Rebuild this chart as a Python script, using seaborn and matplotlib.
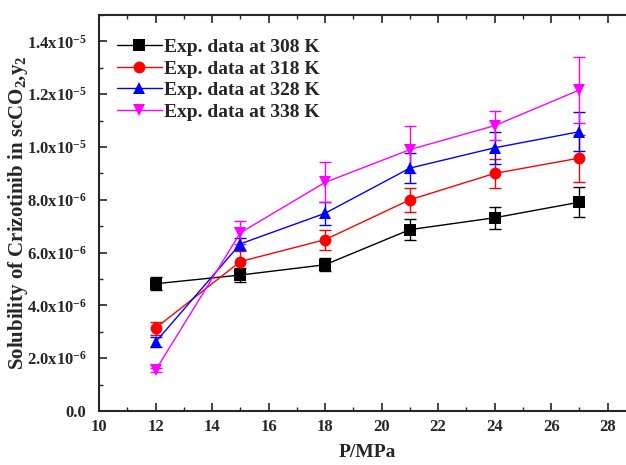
import matplotlib
matplotlib.use("Agg")
import matplotlib.pyplot as plt
import numpy as np
import pandas as pd
import seaborn as sns
from matplotlib.ticker import FuncFormatter, MultipleLocator

pressure = [12, 15, 18, 21, 24, 27]
temps = ["308", "318", "328", "338"]

# solubility in units of 1e-6
sol_308 = [4.82, 5.15, 5.54, 6.87, 7.32, 7.91]
sol_318 = [3.14, 5.66, 6.49, 8.00, 9.00, 9.58]
sol_328 = [2.61, 6.33, 7.49, 9.20, 9.97, 10.58]
sol_338 = [1.54, 6.75, 8.66, 9.90, 10.81, 12.16]

err_308 = [0.25, 0.27, 0.25, 0.41, 0.41, 0.56]
err_318 = [0.25, 0.40, 0.38, 0.45, 0.56, 0.89]
err_328 = [0.20, 0.22, 0.44, 0.57, 0.61, 0.75]
err_338 = [0.08, 0.44, 0.76, 0.90, 0.54, 1.26]

colors = ["#000000", "#ff0000", "#0000ff", "#ff00ff"]
markers = ["s", "o", "^", "v"]

sns.set_style("ticks")
plt.rcParams["font.family"] = ["Liberation Serif", "DejaVu Serif"]
plt.rcParams["font.weight"] = "bold"
plt.rcParams["mathtext.fontset"] = "custom"
plt.rcParams["mathtext.rm"] = "Liberation Serif:bold"
plt.rcParams["mathtext.it"] = "Liberation Serif:bold"
plt.rcParams["mathtext.bf"] = "Liberation Serif:bold"

sols = [sol_308, sol_318, sol_328, sol_338]
errs = [err_308, err_318, err_328, err_338]
rows = []
for t, s in zip(temps, sols):
    for p, v in zip(pressure, s):
        rows.append({"P": p, "y": v * 1e-6, "T": f"Exp. data at {t} K"})
df = pd.DataFrame(rows)
labels = [f"Exp. data at {t} K" for t in temps]

fig = plt.figure(figsize=(6.26, 4.65), dpi=100)
ax = fig.add_axes([99 / 626, 54 / 465, 19 * 28.26 / 626, 396 / 465])

for t, s, e, c in zip(temps, sols, errs, colors):
    ax.errorbar(pressure, np.array(s) * 1e-6, yerr=np.array(e) * 1e-6, fmt="none",
                ecolor=c, elinewidth=1, capsize=4, capthick=1, zorder=2)

sns.lineplot(data=df, x="P", y="y", hue="T", style="T", hue_order=labels, style_order=labels,
             palette=dict(zip(labels, colors)), markers=dict(zip(labels, markers)),
             dashes=False, linewidth=1, markersize=8.5, markeredgewidth=0, ax=ax, zorder=3)

ax.set_xlim(10, 29)
ax.set_ylim(0, 1.5e-5)
ax.xaxis.set_major_locator(MultipleLocator(2))
ax.xaxis.set_minor_locator(MultipleLocator(1))
ax.yaxis.set_major_locator(MultipleLocator(2e-6))
ax.yaxis.set_minor_locator(MultipleLocator(1e-6))


def yfmt(v, pos):
    if abs(v) < 1e-12:
        return "0.0"
    exp = int(np.floor(np.log10(abs(v)) + 1e-9))
    mant = v / 10 ** exp
    return f"{mant:.1f}x10$^{{{exp}}}$"


ax.yaxis.set_major_formatter(FuncFormatter(yfmt))
ax.tick_params(axis="both", which="major", direction="in", length=6, width=1.2,
               labelsize=12, top=True, right=False)
ax.tick_params(axis="both", which="minor", direction="in", length=3, width=1, top=True)
ax.tick_params(axis="x", which="major", pad=6)
ax.tick_params(axis="y", which="major", pad=9)
for lab in ax.get_xticklabels() + ax.get_yticklabels():
    lab.set_fontweight("bold")

for sp in ax.spines.values():
    sp.set_linewidth(1.5)

ax.set_xlabel("P/MPa", fontsize=14, fontweight="bold", labelpad=6)
ax.set_ylabel("Solubility of Crizotinib in scCO$_2$,y$_2$", fontsize=15, fontweight="bold")
ax.yaxis.set_label_coords(-0.128, 0.5)

handles, _ = ax.get_legend_handles_labels()
ax.legend(handles=handles, labels=labels, loc="upper left", bbox_to_anchor=(0.008, 0.975),
          frameon=False, handlelength=2.3, handletextpad=0.1,
          labelspacing=0.2, borderaxespad=0.3, prop={"weight": "bold", "size": 14})

fig.savefig("out.png", dpi=100)
